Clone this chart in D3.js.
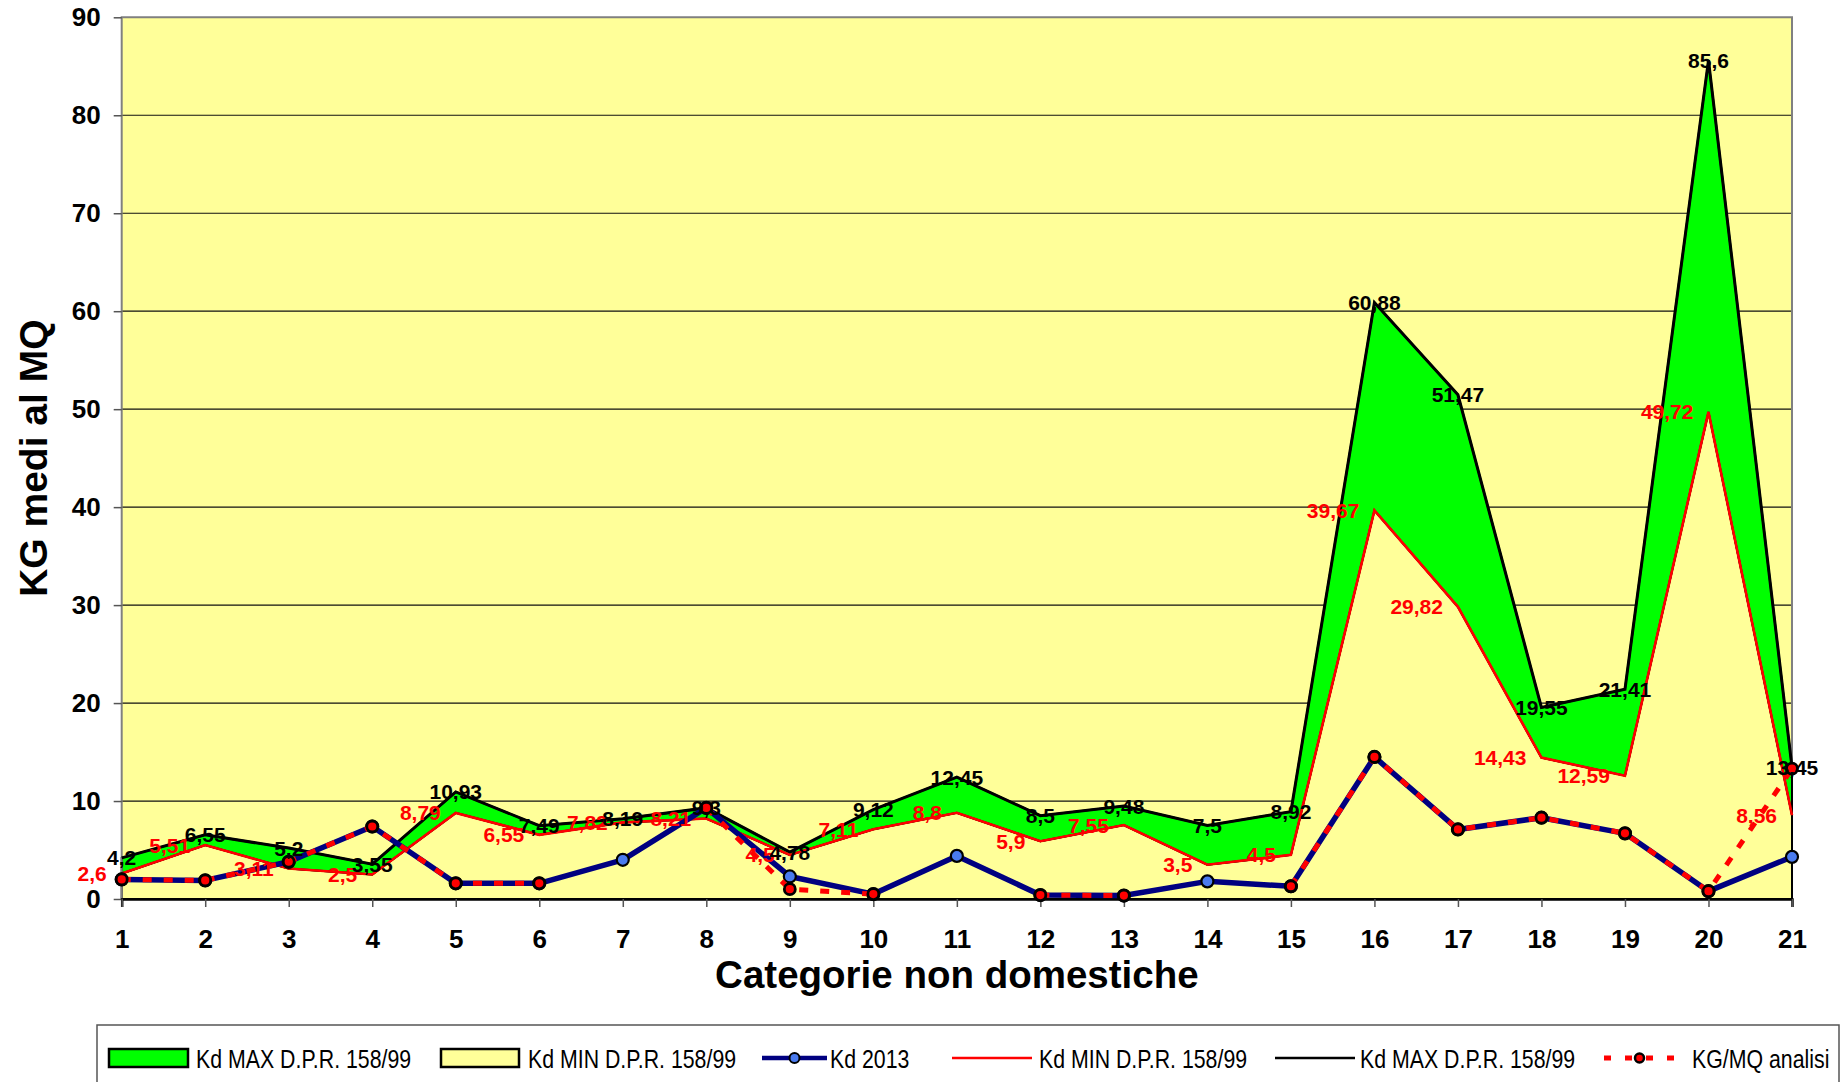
<!DOCTYPE html>
<html>
<head>
<meta charset="utf-8">
<script src="https://cdn.jsdelivr.net/npm/d3@7"></script>
<style>
  body { margin: 0; background: #fff; }
  svg { display: block; font-family: 'Liberation Sans', Arial, sans-serif; }
</style>
</head>
<body>
<script>
// chart values
const categories = ['1','2','3','4','5','6','7','8','9','10','11','12','13','14','15','16','17','18','19','20','21'];
const kdMax = [4.2, 6.55, 5.2, 3.55, 10.93, 7.49, 8.19, 9.3, 4.78, 9.12, 12.45, 8.5, 9.48, 7.5, 8.92, 60.88, 51.47, 19.55, 21.41, 85.6, 13.45];
const kdMin = [2.6, 5.51, 3.11, 2.5, 8.79, 6.55, 7.82, 8.21, 4.5, 7.11, 8.8, 5.9, 7.55, 3.5, 4.5, 39.67, 29.82, 14.43, 12.59, 49.72, 8.56];
const kd2013 = [2.0, 1.9, 3.8, 7.4, 1.6, 1.6, 4.0, 9.3, 2.3, 0.5, 4.4, 0.4, 0.35, 1.8, 1.3, 14.5, 7.1, 8.3, 6.7, 0.8, 4.3];
const analisi = [2.0, 1.9, 3.8, 7.4, 1.6, 1.6, null, 9.3, 1.0, 0.5, null, 0.4, 0.35, null, 1.3, 14.5, 7.1, 8.3, 6.7, 0.8, 13.3];
const yTicks = [0, 10, 20, 30, 40, 50, 60, 70, 80, 90];
const legendLabels = ['Kd MAX D.P.R. 158/99', 'Kd MIN D.P.R. 158/99', 'Kd 2013', 'Kd MIN D.P.R. 158/99', 'Kd MAX D.P.R. 158/99', 'KG/MQ analisi'];

const W = 1841, H = 1082;
const pLeft = 121.7, pRight = 1792, pTop = 17.3, pBottom = 899;

const svg = d3.select('body').append('svg')
    .attr('width', W)
    .attr('height', H);

const x = d3.scalePoint().domain(categories).range([pLeft, pRight]);
const y = d3.scaleLinear().domain([0, 90]).range([pBottom, pTop]);

const fmt = v => String(v).replace('.', ',');

// plot background
svg.append('rect')
    .attr('x', pLeft).attr('y', pTop)
    .attr('width', pRight - pLeft).attr('height', pBottom - pTop)
    .attr('fill', '#ffff99');

// gridlines
svg.append('g')
    .selectAll('line')
    .data(yTicks.filter(d => d > 0 && d < 90))
    .enter()
  .append('line')
    .attr('x1', pLeft).attr('x2', pRight)
    .attr('y1', d => y(d)).attr('y2', d => y(d))
    .attr('stroke', '#111')
    .attr('stroke-width', 1.2);

// areas: min (yellow) and band min-max (green)
const idx = categories.map((c, i) => i);
const areaMin = d3.area()
    .x(i => x(categories[i]))
    .y0(y(0))
    .y1(i => y(kdMin[i]));
const areaBand = d3.area()
    .x(i => x(categories[i]))
    .y0(i => y(kdMin[i]))
    .y1(i => y(kdMax[i]));

svg.append('path')
    .datum(idx)
    .attr('d', areaMin)
    .attr('fill', '#ffff99')
    .attr('stroke', '#000')
    .attr('stroke-width', 2);
svg.append('path')
    .datum(idx)
    .attr('d', areaBand)
    .attr('fill', '#00ff00')
    .attr('stroke', '#000')
    .attr('stroke-width', 2);

// plot border (top, right, left)
svg.append('path')
    .attr('d', `M${pLeft},${pBottom}V${pTop}H${pRight}V${pBottom}`)
    .attr('fill', 'none')
    .attr('stroke', '#808080')
    .attr('stroke-width', 2);
// right edge of the areas is black
svg.append('line')
    .attr('x1', x('21')).attr('x2', x('21'))
    .attr('y1', y(0)).attr('y2', y(kdMax[20]))
    .attr('stroke', '#000').attr('stroke-width', 2);

// y axis
const yAxis = svg.append('g')
    .attr('transform', `translate(${pLeft},0)`)
    .call(d3.axisLeft(y).tickValues(yTicks).tickSize(8).tickPadding(13).tickFormat(d3.format('d')));
yAxis.select('.domain').remove();
yAxis.selectAll('.tick line').attr('stroke', '#555').attr('stroke-width', 1.5);
yAxis.selectAll('text')
    .attr('font-size', 26).attr('font-weight', 'bold').attr('fill', '#000')
    .attr('font-family', "'Liberation Sans', Arial, sans-serif");

// x axis
const xAxis = svg.append('g')
    .attr('transform', `translate(0,${pBottom})`)
    .call(d3.axisBottom(x).tickSize(8).tickPadding(23));
xAxis.select('.domain').attr('stroke', '#000').attr('stroke-width', 2.5);
xAxis.selectAll('.tick line').attr('stroke', '#555').attr('stroke-width', 1.5);
xAxis.selectAll('text')
    .attr('font-size', 26).attr('font-weight', 'bold').attr('fill', '#000')
    .attr('font-family', "'Liberation Sans', Arial, sans-serif");

// lines
const lineOf = arr => d3.line()
    .defined(i => arr[i] != null)
    .x(i => x(categories[i]))
    .y(i => y(arr[i]));

svg.append('path').datum(idx)
    .attr('d', lineOf(kdMax))
    .attr('fill', 'none').attr('stroke', '#000').attr('stroke-width', 3);
svg.append('path').datum(idx)
    .attr('d', lineOf(kdMin))
    .attr('fill', 'none').attr('stroke', '#ff0000').attr('stroke-width', 2.6);

// Kd 2013
svg.append('path').datum(idx)
    .attr('d', lineOf(kd2013))
    .attr('fill', 'none').attr('stroke', '#000080').attr('stroke-width', 5.5)
    .attr('stroke-linejoin', 'round');
svg.append('g').selectAll('circle')
    .data(idx)
    .enter()
  .append('circle')
    .attr('cx', i => x(categories[i]))
    .attr('cy', i => y(kd2013[i]))
    .attr('r', 6)
    .attr('fill', '#4a7bef')
    .attr('stroke', '#000')
    .attr('stroke-width', 2.2);

// KG/MQ analisi
svg.append('path').datum(idx)
    .attr('d', lineOf(analisi))
    .attr('fill', 'none').attr('stroke', '#ff0000').attr('stroke-width', 5)
    .attr('stroke-dasharray', '9,12');
svg.append('g').selectAll('circle')
    .data(idx.filter(i => analisi[i] != null))
    .enter()
  .append('circle')
    .attr('cx', i => x(categories[i]))
    .attr('cy', i => y(analisi[i]))
    .attr('r', 5.5)
    .attr('fill', '#ff0000')
    .attr('stroke', '#000')
    .attr('stroke-width', 2.8);

// data labels
svg.append('g').selectAll('text')
    .data(idx)
    .enter()
  .append('text')
    .attr('x', i => x(categories[i]) - 15)
    .attr('y', i => y(kdMin[i]))
    .attr('dy', '0.36em')
    .attr('text-anchor', 'end')
    .attr('font-size', 21).attr('font-weight', 'bold')
    .attr('fill', '#ff0000')
    .text(i => fmt(kdMin[i]));
svg.append('g').selectAll('text')
    .data(idx)
    .enter()
  .append('text')
    .attr('x', i => x(categories[i]))
    .attr('y', i => y(kdMax[i]))
    .attr('dy', '0.36em')
    .attr('text-anchor', 'middle')
    .attr('font-size', 21).attr('font-weight', 'bold')
    .attr('fill', '#000')
    .text(i => fmt(kdMax[i]));

// axis titles
svg.append('text')
    .attr('x', (pLeft + pRight) / 2)
    .attr('y', 988)
    .attr('text-anchor', 'middle')
    .attr('font-size', 38.5).attr('font-weight', 'bold')
    .text('Categorie non domestiche');
svg.append('text')
    .attr('transform', `translate(47,${(pTop + pBottom) / 2}) rotate(-90)`)
    .attr('text-anchor', 'middle')
    .attr('font-size', 39).attr('font-weight', 'bold')
    .text('KG medi al MQ');

// legend
const legend = svg.append('g');
legend.append('rect')
    .attr('x', 97).attr('y', 1025)
    .attr('width', 1742).attr('height', 80)
    .attr('fill', '#fff')
    .attr('stroke', '#555').attr('stroke-width', 1.5);

const legY = 1058;
const legItems = [
    { type: 'box', fill: '#00ff00', x0: 109, x1: 188, tx: 196 },
    { type: 'box', fill: '#ffff99', x0: 441, x1: 519, tx: 528 },
    { type: 'blue', x0: 762, x1: 827, tx: 830 },
    { type: 'red', x0: 952, x1: 1032, tx: 1039 },
    { type: 'black', x0: 1275, x1: 1355, tx: 1360 },
    { type: 'dash', x0: 1604, x1: 1675, tx: 1692 }
];
legItems.forEach((d, i) => {
    if (d.type == 'box') {
        legend.append('rect')
            .attr('x', d.x0).attr('y', legY - 9)
            .attr('width', d.x1 - d.x0).attr('height', 18)
            .attr('fill', d.fill).attr('stroke', '#000').attr('stroke-width', 2.5);
    } else if (d.type == 'blue') {
        legend.append('line')
            .attr('x1', d.x0).attr('x2', d.x1).attr('y1', legY).attr('y2', legY)
            .attr('stroke', '#000080').attr('stroke-width', 4.5);
        legend.append('circle')
            .attr('cx', (d.x0 + d.x1) / 2).attr('cy', legY).attr('r', 5)
            .attr('fill', '#4a7bef').attr('stroke', '#000').attr('stroke-width', 2);
    } else if (d.type == 'dash') {
        legend.append('line')
            .attr('x1', d.x0).attr('x2', d.x1).attr('y1', legY).attr('y2', legY)
            .attr('stroke', '#ff0000').attr('stroke-width', 5)
            .attr('stroke-dasharray', '7,14');
        legend.append('circle')
            .attr('cx', (d.x0 + d.x1) / 2).attr('cy', legY).attr('r', 4.5)
            .attr('fill', '#ff0000').attr('stroke', '#000').attr('stroke-width', 2.5);
    } else {
        legend.append('line')
            .attr('x1', d.x0).attr('x2', d.x1).attr('y1', legY).attr('y2', legY)
            .attr('stroke', d.type == 'red' ? '#ff0000' : '#000').attr('stroke-width', 2.5);
    }
    // condensed look of the legend font
    legend.append('text')
        .attr('transform', `translate(${d.tx},${legY + 9.5}) scale(0.82,1)`)
        .attr('font-size', 26)
        .text(legendLabels[i]);
});
</script>
</body>
</html>
